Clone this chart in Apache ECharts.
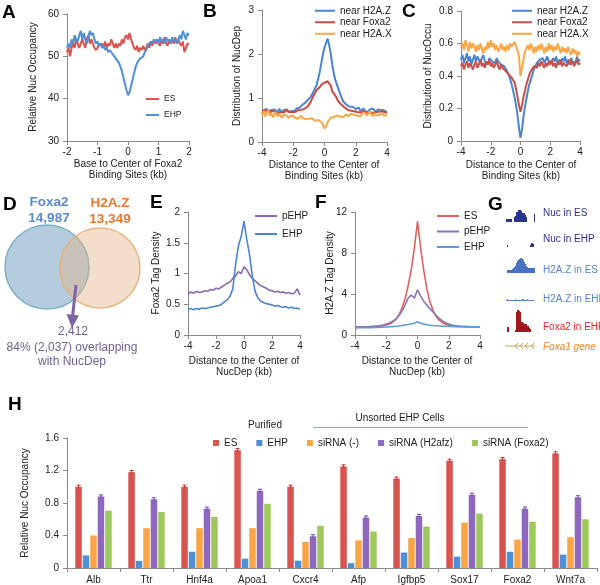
<!DOCTYPE html>
<html>
<head>
<meta charset="utf-8">
<script src="https://cdn.jsdelivr.net/npm/echarts@6/dist/echarts.min.js"></script>
<style>html,body{margin:0;padding:0;background:#fff;}#c{width:600px;height:585px;}</style>
</head>
<body>
<div id="c"></div>
<script>
// ---------- Panel A: x -2..2 step 0.05 ----------
const A_START = -2, A_STEP = 0.05;
const A_ES = [51,52,50,52,53,52,54,53,52,53,
  54,53,52,54,55,53,54,53,52,51.5,
  52,53,52.5,53,52,53.5,52,53,52.5,54,
  53,52,53,52,53,52.5,54,53,54.5,55,
  54,55.5,54,53,52,51.5,52.5,51,52,51.5,
  52.5,51.5,52,53,52,53.5,52.5,54,53,54,
  53,52.5,54,53,54.5,53,52.5,54,53,54,
  53,54.5,53,54,53,52.5,53.5,51,52,53,53];
const A_EHP = [52,53,52,54,53,55,54,53.5,55,56,
  54,55.5,54,53,54.5,56,55,55.5,54,53,
  53.5,52.5,53,52,52.5,51.5,52,51,51.5,51,
  50.5,50,49.5,49,48.5,47.5,46.5,45,43.5,42,
  40.8,41.5,43,44.5,46,47.5,48.4,49,49.5,49.8,
  50,51,51.5,52.5,52.3,53.5,53,54,53.5,54,
  53,54.5,53.5,54,53,54.5,53.5,54,53,54.5,
  53.5,54,53,54,55,54,56,55,54,55.5,55];

// ---------- Panel B: x -4..4 step 0.1 ----------
const BC_START = -4, BC_STEP = 0.1;
const B_H2AZ = [0.65,0.72,0.68,0.75,0.7,0.66,0.73,0.69,0.74,0.7,
  0.68,0.75,0.71,0.67,0.73,0.7,0.74,0.69,0.72,0.7,
  0.73,0.71,0.76,0.72,0.78,0.8,0.85,0.82,0.9,0.95,
  0.98,1.02,1.08,1.15,1.22,1.3,1.45,1.6,1.8,2.0,
  2.15,2.25,2.35,2.2,2.0,1.75,1.55,1.4,1.3,1.2,
  1.1,1.0,0.92,0.9,0.85,0.86,0.8,0.78,0.8,0.76,
  0.75,0.72,0.78,0.7,0.74,0.76,0.7,0.73,0.69,0.74,
  0.7,0.76,0.72,0.68,0.74,0.7,0.73,0.69,0.72,0.7,0.68];
const B_FOXA2 = [0.7,0.66,0.72,0.68,0.7,0.65,0.71,0.67,0.69,0.72,
  0.66,0.7,0.68,0.72,0.67,0.7,0.73,0.68,0.7,0.69,
  0.71,0.68,0.7,0.72,0.69,0.73,0.71,0.75,0.78,0.8,
  0.85,0.9,0.98,1.05,1.12,1.18,1.22,1.25,1.3,1.32,
  1.35,1.33,1.38,1.4,1.28,1.15,1.1,1.05,0.98,0.92,
  0.88,0.84,0.8,0.78,0.76,0.73,0.74,0.71,0.72,0.7,
  0.7,0.68,0.71,0.67,0.69,0.7,0.68,0.66,0.7,0.67,
  0.69,0.66,0.7,0.68,0.67,0.69,0.66,0.7,0.68,0.67,0.66];
const B_H2AX = [0.62,0.7,0.58,0.65,0.72,0.6,0.66,0.56,0.63,0.68,
  0.58,0.64,0.6,0.55,0.62,0.58,0.6,0.54,0.59,0.57,
  0.6,0.55,0.58,0.53,0.56,0.6,0.54,0.57,0.52,0.55,
  0.53,0.5,0.54,0.51,0.48,0.52,0.5,0.47,0.45,0.4,
  0.3,0.36,0.45,0.5,0.55,0.52,0.57,0.55,0.6,0.56,
  0.58,0.62,0.57,0.6,0.63,0.58,0.61,0.64,0.6,0.62,
  0.65,0.6,0.63,0.58,0.64,0.61,0.66,0.6,0.62,0.7,
  0.63,0.58,0.66,0.6,0.64,0.62,0.58,0.65,0.6,0.63,0.6];

// ---------- Panel C ----------
const C_H2AZ = [0.5,0.53,0.48,0.51,0.54,0.49,0.52,0.47,0.5,0.53,
  0.49,0.52,0.5,0.48,0.51,0.53,0.49,0.5,0.47,0.51,
  0.52,0.49,0.5,0.48,0.51,0.49,0.5,0.47,0.48,0.46,
  0.45,0.43,0.41,0.38,0.35,0.31,0.27,0.22,0.16,0.08,
  0.02,0.07,0.15,0.21,0.26,0.31,0.35,0.38,0.41,0.44,
  0.46,0.48,0.47,0.5,0.49,0.51,0.48,0.5,0.52,0.49,
  0.5,0.48,0.51,0.49,0.52,0.48,0.5,0.47,0.51,0.49,
  0.52,0.48,0.5,0.47,0.51,0.49,0.5,0.48,0.52,0.49,0.5];
const C_FOXA2 = [0.46,0.48,0.44,0.47,0.49,0.45,0.48,0.46,0.44,0.47,
  0.49,0.45,0.47,0.5,0.46,0.48,0.45,0.49,0.47,0.5,
  0.46,0.48,0.45,0.47,0.49,0.46,0.44,0.47,0.45,0.46,
  0.43,0.42,0.41,0.4,0.39,0.38,0.36,0.32,0.27,0.22,
  0.18,0.22,0.27,0.31,0.35,0.38,0.41,0.43,0.44,0.46,
  0.47,0.45,0.48,0.46,0.49,0.47,0.45,0.48,0.46,0.49,
  0.47,0.5,0.46,0.48,0.45,0.49,0.47,0.5,0.46,0.48,
  0.49,0.46,0.48,0.5,0.47,0.49,0.46,0.48,0.5,0.47,0.48];
const C_H2AX = [0.58,0.6,0.56,0.62,0.59,0.55,0.61,0.57,0.6,0.58,
  0.55,0.59,0.56,0.6,0.57,0.54,0.58,0.56,0.61,0.57,
  0.62,0.58,0.6,0.56,0.59,0.55,0.57,0.6,0.56,0.58,
  0.55,0.59,0.56,0.6,0.58,0.57,0.61,0.6,0.56,0.52,
  0.4,0.45,0.5,0.55,0.57,0.59,0.56,0.6,0.57,0.54,
  0.58,0.55,0.59,0.56,0.6,0.57,0.54,0.58,0.55,0.6,
  0.56,0.59,0.55,0.58,0.56,0.6,0.57,0.54,0.58,0.55,
  0.57,0.54,0.58,0.55,0.53,0.57,0.54,0.56,0.52,0.55,0.53];

// ---------- Panels E, F: x -4..4 step 0.2 ----------
const EF_START = -4, EF_STEP = 0.2;
const E_PEHP = [0.66,0.7,0.68,0.71,0.69,0.7,0.72,0.71,0.74,0.73,
  0.76,0.75,0.78,0.81,0.84,0.86,0.92,0.96,1.03,1.0,
  1.11,1.06,0.98,0.92,0.88,0.84,0.8,0.78,0.76,0.73,
  0.72,0.7,0.71,0.69,0.7,0.68,0.69,0.67,0.68,0.75,0.65];
const E_EHP = [0.42,0.43,0.41,0.43,0.42,0.44,0.43,0.44,0.45,0.46,
  0.47,0.48,0.5,0.54,0.57,0.63,0.75,1.15,1.45,1.6,
  1.85,1.55,1.3,0.95,0.7,0.6,0.55,0.53,0.51,0.5,
  0.49,0.47,0.48,0.46,0.45,0.46,0.44,0.45,0.43,0.44,0.42];
const F_ES = [0.8,0.8,0.81,0.8,0.81,0.82,0.82,0.84,0.86,0.9,
  0.98,1.08,1.25,1.5,1.95,2.6,3.5,4.8,6.4,8.5,
  11.1,8.5,6.3,4.5,3.2,2.4,1.8,1.42,1.2,1.05,
  0.96,0.9,0.86,0.84,0.83,0.82,0.81,0.81,0.8,0.8,0.8];
const F_PEHP = [0.78,0.79,0.8,0.8,0.81,0.83,0.85,0.88,0.92,0.98,
  1.06,1.18,1.35,1.55,1.85,2.3,2.9,3.6,3.9,3.6,
  4.4,3.8,3.3,2.9,2.55,2.25,1.9,1.6,1.38,1.2,
  1.07,0.98,0.92,0.88,0.85,0.83,0.82,0.81,0.8,0.8,0.79];
const F_EHP = [0.7,0.7,0.71,0.71,0.72,0.72,0.73,0.74,0.75,0.76,
  0.78,0.8,0.82,0.85,0.88,0.92,0.97,1.02,1.08,1.15,
  1.3,1.15,1.06,1.0,0.95,0.92,0.9,0.88,0.86,0.85,
  0.84,0.83,0.82,0.81,0.81,0.8,0.8,0.8,0.79,0.79,0.78];

// ---------- Panel G tracks (1 value per pixel column) ----------
const G_NUC_ES = [0,3,3,3,3,3,3,0,0,5,6,10,10,12,12,12,11,9,9,9,7,5,0,0,0,0,0,0,0,8];
const G_NUC_EHP = [0,0,2,0,0,0,0,0,0,0,0,0,0,0,0,0,0,0,0,0,0,0,0,0,0,2,4,4,3,0];
const G_H2AZ_ES = [0,0,3,3,3,3,3,4,5,6,7,10,12,13,14,15,15,14,13,11,9,7,6,5,5,5,5,5,5,5];
const G_H2AZ_EHP = [0,1,2,1,1,1,1,1,1,1,2,1,1,1,1,1,1,2,2,1,1,1,2,1,1,1,1,1,1,0];
const G_FOXA2_EHP = [0,0,5,5,0,0,0,0,0,0,2,20,22,22,21,20,10,10,9,8,8,8,6,6,4,3,0,0,0,0];

// ---------- Panel H ----------
const H_GENES = ['Alb','Ttr','Hnf4a','Apoa1','Cxcr4','Afp','Igfbp5','Sox17','Foxa2','Wnt7a'];
const H_ES = [1.0,1.18,1.0,1.45,1.0,1.25,1.1,1.32,1.34,1.41];
const H_EHP = [0.155,0.087,0.2,0.115,0.09,0.06,0.19,0.14,0.2,0.165];
const H_SI_NEG = [0.4,0.49,0.49,0.49,0.32,0.34,0.37,0.56,0.35,0.38];
const H_SI_H2AFZ = [0.88,0.845,0.73,0.95,0.39,0.62,0.64,0.9,0.73,0.87];
const H_SI_FOXA2 = [0.705,0.69,0.63,0.79,0.52,0.45,0.51,0.67,0.57,0.6];
const H_ES_ERR = [0.02,0.02,0.02,0.02,0.02,0.02,0.02,0.02,0.02,0.02];
const H_H2AFZ_ERR = [0.02,0.02,0.02,0.02,0.02,0.02,0.02,0.02,0.02,0.02];

// ---------- build ----------
const FF = 'Liberation Sans, Arial, sans-serif';
const AX = '#8a8a8a', TX = '#222';
const chart = echarts.init(document.getElementById('c'), null, {renderer:'canvas'});

function pairs(start, step, ys){ return ys.map((y,i)=>[+(start+i*step).toFixed(3), y]); }
function lineS(name, gi, start, step, ys, color, w){
  return {type:'line', name, xAxisIndex:gi, yAxisIndex:gi, data:pairs(start,step,ys),
    showSymbol:false, symbol:'none', lineStyle:{color, width:w}, itemStyle:{color}, silent:true, z:3};
}
function vx(gi,min,max,interval){
  return {type:'value', gridIndex:gi, min, max, interval,
    axisLine:{show:true,onZero:false,lineStyle:{color:AX}}, axisTick:{show:true,length:4,lineStyle:{color:AX}},
    axisLabel:{fontSize:10,color:TX,margin:6,fontFamily:FF,showMinLabel:true,showMaxLabel:true}, splitLine:{show:false}};
}
function vy(gi,min,max,interval){
  return {type:'value', gridIndex:gi, min, max, interval,
    axisLine:{show:true,onZero:false,lineStyle:{color:AX}}, axisTick:{show:true,length:4,lineStyle:{color:AX}},
    axisLabel:{fontSize:10,color:TX,margin:8,fontFamily:FF,showMinLabel:true,showMaxLabel:true}, splitLine:{show:false}};
}
const strip = n => n.split('|')[1];
function lg(names,left,topPx,w,fs,lh,gap){
  return {data:names,left,top:topPx,orient:'vertical',padding:0,itemWidth:w,itemHeight:2,itemGap:gap,icon:'rect',
    selectedMode:false,formatter:strip,textStyle:{fontSize:fs,lineHeight:lh,color:TX,fontFamily:FF}};
}

const grids = [
  {left:67, top:14, width:122, height:127},   // A
  {left:262, top:10, width:125, height:132},  // B
  {left:461, top:11, width:119, height:130},  // C
  {left:188, top:212, width:112, height:123}, // E
  {left:355, top:212, width:125, height:123}, // F
  {left:67, top:438, width:530, height:130},  // H
  {left:505, top:209, width:30, height:13},   // G nuc ES
  {left:505, top:238, width:30, height:9},    // G nuc EHP
  {left:505, top:258, width:30, height:15},   // G H2A.Z ES
  {left:505, top:292, width:30, height:9},    // G H2A.Z EHP
  {left:505, top:308, width:30, height:24}    // G Foxa2 EHP
];
const gTracks = [
  [G_NUC_ES, 13, '#2B3590'],
  [G_NUC_EHP, 9, '#2B3590'],
  [G_H2AZ_ES, 15, '#4A72C2'],
  [G_H2AZ_EHP, 9, '#5A80C8'],
  [G_FOXA2_EHP, 24, '#A3161B']
];

const xAxis = [vx(0,-2,2,1), vx(1,-4,4,2), vx(2,-4,4,2), vx(3,-4,4,2), vx(4,-4,4,2),
  {type:'category', gridIndex:5, data:H_GENES, boundaryGap:true,
   axisLine:{lineStyle:{color:AX}}, axisTick:{show:true,length:4,alignWithLabel:false,lineStyle:{color:AX}},
   axisLabel:{fontSize:10,color:TX,margin:7,fontFamily:FF,interval:0}}];
const yAxis = [vy(0,30,60,10), vy(1,0,3,1), vy(2,0,0.8,0.2), vy(3,0,2,0.5), vy(4,0,12,4), vy(5,0,1.6,0.4)];
gTracks.forEach((t,k)=>{
  xAxis.push({type:'category', gridIndex:6+k, data:t[0].map((_,i)=>i), show:false, boundaryGap:true});
  yAxis.push({type:'value', gridIndex:6+k, min:0, max:t[1], show:false});
});

const series = [
  lineS('A|ES',0,A_START,A_STEP,A_ES,'#D9534F',2),
  lineS('A|EHP',0,A_START,A_STEP,A_EHP,'#4F8FD8',2),
  lineS('B|near H2A.Z',1,BC_START,BC_STEP,B_H2AZ,'#4A86D0',2),
  lineS('B|near Foxa2',1,BC_START,BC_STEP,B_FOXA2,'#D04A44',2),
  lineS('B|near H2A.X',1,BC_START,BC_STEP,B_H2AX,'#F9A646',2),
  lineS('C|near H2A.Z',2,BC_START,BC_STEP,C_H2AZ,'#4A86D0',2),
  lineS('C|near Foxa2',2,BC_START,BC_STEP,C_FOXA2,'#C9504A',2),
  lineS('C|near H2A.X',2,BC_START,BC_STEP,C_H2AX,'#F9A646',2),
  lineS('E|pEHP',3,EF_START,EF_STEP,E_PEHP,'#8A6AAE',1.6),
  lineS('E|EHP',3,EF_START,EF_STEP,E_EHP,'#4A86D0',1.6),
  lineS('F|ES',4,EF_START,EF_STEP,F_ES,'#E0625E',1.6),
  lineS('F|pEHP',4,EF_START,EF_STEP,F_PEHP,'#8A75B8',1.6),
  lineS('F|EHP',4,EF_START,EF_STEP,F_EHP,'#5E9AD5',1.6)
];
const hSets = [['H|ES',H_ES,'#D9534F'],['H|EHP',H_EHP,'#4A90DA'],['H|siRNA (-)',H_SI_NEG,'#F9A546'],
  ['H|siRNA (H2afz)',H_SI_H2AFZ,'#8E68BE'],['H|siRNA (Foxa2)',H_SI_FOXA2,'#9DC85B']];
const BW = 6.5, BGAP = 0.15;
hSets.forEach(s=>series.push({type:'bar', name:s[0], xAxisIndex:5, yAxisIndex:5, data:s[1],
  barWidth:BW, barGap:(BGAP*100)+'%', itemStyle:{color:s[2]}, silent:true}));
function errSeries(vals, errs, slot, color){
  const off = (slot-2)*BW*(1+BGAP);
  return {type:'custom', xAxisIndex:5, yAxisIndex:5, silent:true, z:5,
    data: vals.map((v,i)=>[i,v,errs[i]]),
    renderItem:(p,api)=>{
      const i=api.value(0), v=api.value(1), e=api.value(2);
      const t=api.coord([i,v+e]), b=api.coord([i,v-e]); const x=t[0]+off;
      return {type:'group',children:[
        {type:'line',shape:{x1:x,y1:t[1],x2:x,y2:b[1]},style:{stroke:color,lineWidth:1}},
        {type:'line',shape:{x1:x-2,y1:t[1],x2:x+2,y2:t[1]},style:{stroke:color,lineWidth:1}}]};
    }};
}
series.push(errSeries(H_ES,H_ES_ERR,0,'#B03A36'));
series.push(errSeries(H_SI_H2AFZ,H_H2AFZ_ERR,3,'#6A4C98'));
gTracks.forEach((t,k)=>series.push({type:'bar', xAxisIndex:6+k, yAxisIndex:6+k, data:t[0],
  barCategoryGap:'0%', itemStyle:{color:t[2]}, silent:true}));

const legend = [
  lg(['A|ES','A|EHP'],146,93,13,8.5,12,4),
  lg(['B|near H2A.Z','B|near Foxa2','B|near H2A.X'],315,5,20,10,11.5,0),
  lg(['C|near H2A.Z','C|near Foxa2','C|near H2A.X'],512,5,20,10,11.5,0),
  lg(['E|pEHP','E|EHP'],255,210,22,10,12,6),
  lg(['F|ES','F|pEHP','F|EHP'],437,210,22,10,12,3.5),
  {data:hSets.map(s=>s[0]),left:213,top:437,padding:0,itemWidth:6,itemHeight:6,itemGap:19,icon:'rect',
   selectedMode:false,formatter:strip,textStyle:{fontSize:10,lineHeight:12,color:TX,fontFamily:FF}}
];

// ---------- decorations ----------
function T(text,x,y,o){ o=o||{};
  return {type:'text', x, y, rotation:o.rot||0, z:10, silent:true,
    style:{text, align:o.align||'center', verticalAlign:'middle', fontSize:o.fs||10, fontWeight:o.fw||'normal',
      fontStyle:o.it?'italic':'normal', fontFamily:FF, fill:o.color||TX, lineHeight:o.lh||11}};
}
const R90 = Math.PI/2;
// Venn diagram: two translucent circles, the overlap shows as their blend
const c1={x:47,y:267,r:42}, c2={x:100,y:268,r:40};

const chev = [];
[515,520,525,531].forEach(x=>{
  chev.push({type:'line', silent:true, z:10, shape:{x1:x+3,y1:343,x2:x,y2:346}, style:{stroke:'#C9A35E',lineWidth:1}});
  chev.push({type:'line', silent:true, z:10, shape:{x1:x,y1:346,x2:x+3,y2:349}, style:{stroke:'#C9A35E',lineWidth:1}});
});

const graphic = [
  T('A',2,13,{align:'left',fs:19,fw:'bold',color:'#000'}),
  T('B',203,12,{align:'left',fs:19,fw:'bold',color:'#000'}),
  T('C',402,12,{align:'left',fs:19,fw:'bold',color:'#000'}),
  T('D',3,205,{align:'left',fs:19,fw:'bold',color:'#000'}),
  T('E',150,203,{align:'left',fs:19,fw:'bold',color:'#000'}),
  T('F',315,203,{align:'left',fs:19,fw:'bold',color:'#000'}),
  T('G',488,205,{align:'left',fs:19,fw:'bold',color:'#000'}),
  T('H',8,405,{align:'left',fs:19,fw:'bold',color:'#000'}),
  T('Relative Nuc Occupancy',33,77,{rot:R90}),
  T('Base to Center of Foxa2\nBinding Sites (kb)',128,170),
  T('Distribution of NucDep',237,76,{rot:R90}),
  T('Distance to the Center of\nBinding Sites (kb)',324,171),
  T('Distribution of NucOccu',428,76,{rot:R90}),
  T('Distance to the Center of\nBinding Sites (kb)',521,171),
  T('Foxa2 Tag Density',156,273,{rot:R90}),
  T('Distance to the Center of\nNucDep (kb)',244,367),
  T('H2A.Z Tag Density',330,273,{rot:R90}),
  T('Distance to the Center of\nNucDep (kb)',417,367),
  T('Relative Nuc Occupancy',25,503,{rot:R90}),
  // Venn
  {type:'circle', silent:true, z:1, shape:{cx:c1.x,cy:c1.y,r:c1.r},
   style:{fill:'rgba(120,162,195,0.55)', stroke:'rgba(110,170,195,0.9)', lineWidth:1.5}},
  {type:'circle', silent:true, z:2, shape:{cx:c2.x,cy:c2.y,r:c2.r},
   style:{fill:'rgba(226,182,137,0.45)', stroke:'rgba(232,175,115,0.9)', lineWidth:1.5}},
  {type:'line', silent:true, z:4, shape:{x1:76,y1:285,x2:72.5,y2:317}, style:{stroke:'#8064A2',lineWidth:3}},
  {type:'polygon', silent:true, z:4, shape:{points:[[66.5,314],[79,315.5],[72,328]]}, style:{fill:'#8064A2'}},
  T('Foxa2',49,202,{fs:13.5,fw:'bold',color:'#5B8BD0'}),
  T('14,987',49,218,{fs:13.5,fw:'bold',color:'#5B8BD0'}),
  T('H2A.Z',110,203,{fs:13.5,fw:'bold',color:'#E8772E'}),
  T('13,349',110,219,{fs:13.5,fw:'bold',color:'#E8772E'}),
  T('2,412',73,332,{fs:12,color:'#6F628F'}),
  T('84% (2,037) overlapping',72,348,{fs:12,color:'#6F628F'}),
  T('with NucDep',72,362,{fs:12,color:'#6F628F'}),
  // G labels
  T('Nuc in ES',543,213,{align:'left',color:'#2E3192'}),
  T('Nuc in EHP',543,239,{align:'left',color:'#2E3192'}),
  T('H2A.Z in ES',543,270,{align:'left',color:'#5B84C9'}),
  T('H2A.Z in EHP',543,299,{align:'left',color:'#5B84C9'}),
  T('Foxa2 in EHP',543,327,{align:'left',color:'#E3262B'}),
  T('Foxa1 gene',543,347,{align:'left',color:'#E98A2E',it:true}),
  {type:'line', silent:true, z:10, shape:{x1:505,y1:346,x2:535,y2:346}, style:{stroke:'#C9A35E',lineWidth:1}},
  ...chev,
  // H headers
  T('Purified',265,425),
  T('Unsorted EHP Cells',400,418),
  {type:'line', silent:true, z:10, shape:{x1:313,y1:427.5,x2:528,y2:427.5}, style:{stroke:'#7FAEDC',lineWidth:1}}
];

chart.setOption({
  animation:false,
  backgroundColor:'#fff',
  textStyle:{fontFamily:FF},
  grid:grids, xAxis, yAxis, series, legend, graphic
});
</script>
</body>
</html>
